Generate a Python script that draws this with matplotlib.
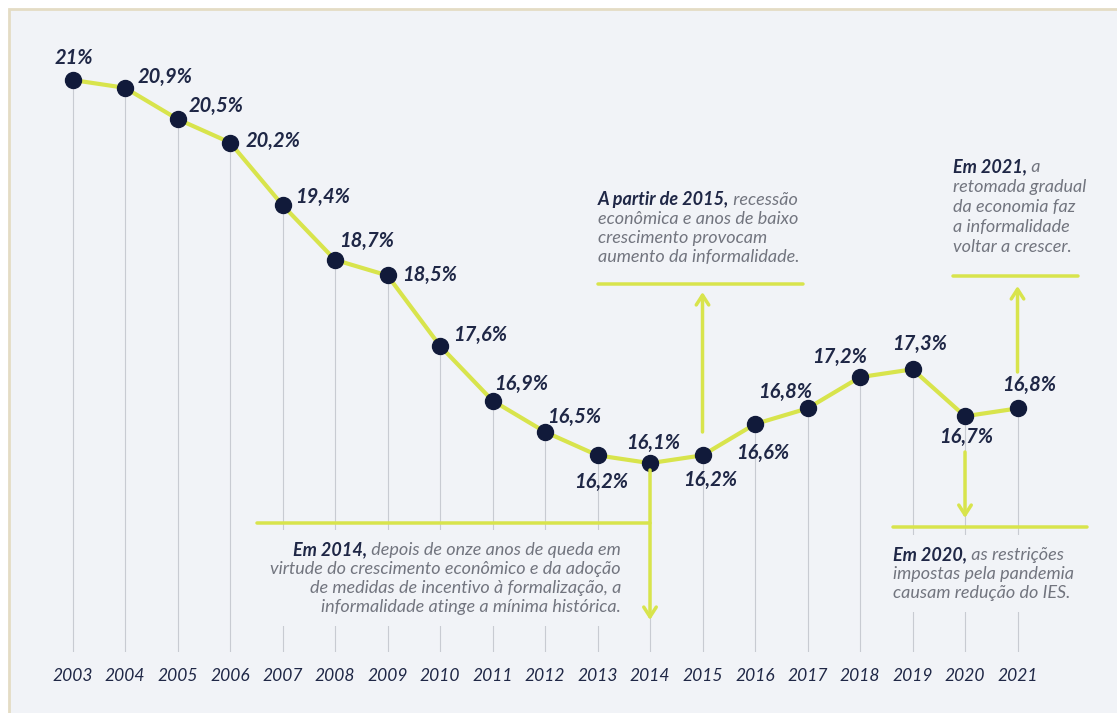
import matplotlib
matplotlib.use("Agg")
import matplotlib.pyplot as plt
from matplotlib.patches import Rectangle
from matplotlib.offsetbox import TextArea, HPacker, VPacker, AnnotationBbox

# ---------------- data ----------------
years = [2003, 2004, 2005, 2006, 2007, 2008, 2009, 2010, 2011, 2012,
         2013, 2014, 2015, 2016, 2017, 2018, 2019, 2020, 2021]
values = [21.0, 20.9, 20.5, 20.2, 19.4, 18.7, 18.5, 17.6, 16.9, 16.5,
          16.2, 16.1, 16.2, 16.6, 16.8, 17.2, 17.3, 16.7, 16.8]
value_labels = ["21%", "20,9%", "20,5%", "20,2%", "19,4%", "18,7%", "18,5%",
                "17,6%", "16,9%", "16,5%", "16,2%", "16,1%", "16,2%", "16,6%",
                "16,8%", "17,2%", "17,3%", "16,7%", "16,8%"]
year_labels = [str(y) for y in years]

note_2014 = [("Em 2014,", " depois de onze anos de queda em"),
             (None, "virtude do crescimento econômico e da adoção"),
             (None, "de medidas de incentivo à formalização, a"),
             (None, "informalidade atinge a mínima histórica.")]
note_2015 = [("A partir de 2015,", " recessão"),
             (None, "econômica e anos de baixo"),
             (None, "crescimento provocam"),
             (None, "aumento da informalidade.")]
note_2020 = [("Em 2020,", " as restrições"),
             (None, "impostas pela pandemia"),
             (None, "causam redução do IES.")]
note_2021 = [("Em 2021,", " a"),
             (None, "retomada gradual"),
             (None, "da economia faz"),
             (None, "a informalidade"),
             (None, "voltar a crescer.")]

# ---------------- style / layout ----------------
W, H = 1117, 713
BG = "#f1f3f7"
BORDER = "#e4dcc4"
YEL = "#d8e44c"
NAVY = "#111a3a"
LABEL = "#1f2746"
GRAY = "#72757f"
VGRID = "#c8cbd2"
FONT = "Lato"
FS = 13
LBL_FS = 14.5
YEAR_FS = 12.5

# label offsets in pixels (dx, dy) relative to each point
label_offsets = [(1, 22), (40, 11), (39, 13), (43, 2), (40, 8), (32, 19), (42, 1),
                 (40, 11), (29, 17), (29, 15), (4, -27), (3, 20), (8, -25),
                 (8, -29), (-22, 16), (-20, 20), (7, 25), (1, -21), (12, 23)]

fig = plt.figure(figsize=(W / 100, H / 100), dpi=100)
fig.patch.set_facecolor("white")
fig.patches.append(Rectangle((9, -20), W + 20, H - 9 + 20, transform=None,
                             facecolor=BG, edgecolor=BORDER, lw=2, zorder=-10))

ax = fig.add_axes([0, 61 / H, 1, 1 - 61 / H])
ax.set_xlim(2001.619, 2022.895)
ax.set_ylim(13.685, 22.023)
ax.axis("off")
ax.patch.set_alpha(0)

# vertical guide lines
ax.vlines(years, 13.685, values, colors=VGRID, lw=0.8, zorder=1)
# main line + dots
ax.plot(years, values, color=YEL, lw=3, zorder=2, solid_capstyle="round")
ax.plot(years, values, "o", color=NAVY, ms=11.5, zorder=3)

for x, v, lab, (dx, dy) in zip(years, values, value_labels, label_offsets):
    ax.annotate(lab, xy=(x, v), xytext=(dx, dy), textcoords="offset pixels",
                ha="center", va="center", fontsize=LBL_FS, fontweight="bold",
                style="italic", family=FONT, color=LABEL, zorder=5)

for x, lab in zip(years, year_labels):
    ax.annotate(lab, xy=(x, 37), xycoords=("data", "figure pixels"),
                ha="center", va="center", fontsize=YEAR_FS, style="italic",
                family=FONT, color=LABEL, annotation_clip=False)


def para(lines, align, sep=2.2):
    rows = []
    for bold, rest in lines:
        parts = []
        if bold:
            parts.append(TextArea(bold, textprops=dict(color=LABEL, fontweight="bold",
                                                       style="italic", family=FONT, size=FS)))
        if rest:
            parts.append(TextArea(rest, textprops=dict(color=GRAY, style="italic",
                                                       family=FONT, size=FS)))
        rows.append(HPacker(children=parts, align="baseline", pad=0, sep=0))
    return VPacker(children=rows, align=align, pad=0, sep=sep)


def place(box, xy, align, occlude=False):
    ab = AnnotationBbox(box, xy, xycoords="figure pixels", box_alignment=align,
                        frameon=occlude, pad=0.8,
                        bboxprops=dict(boxstyle="square,pad=0.8", fc=BG, ec="none"),
                        zorder=4, annotation_clip=False)
    ax.add_artist(ab)


place(para(note_2014, "right"), (621, H - 541), (1, 1), occlude=True)
place(para(note_2015, "left"), (598, H - 191), (0, 1))
place(para(note_2020, "left"), (893, H - 546), (0, 1), occlude=True)
place(para(note_2021, "left", sep=2.8), (953, H - 158), (0, 1))

arrow = dict(arrowstyle="->,head_length=0.7,head_width=0.45", color=YEL, lw=2.5,
             shrinkA=0, shrinkB=0)
plain = dict(arrowstyle="-", color=YEL, lw=2.5, shrinkA=0, shrinkB=0)
mixed = ("data", "figure pixels")

# 2014
ax.annotate("", xy=(2014, H - 523), xycoords=mixed, xytext=(257, H - 523),
            textcoords="figure pixels", arrowprops=plain, zorder=5)
ax.annotate("", xy=(2014, H - 620), xycoords=mixed, xytext=(2014, H - 470),
            textcoords=mixed, arrowprops=arrow, zorder=5)
# 2015
ax.annotate("", xy=(2015, H - 292), xycoords=mixed, xytext=(2015, H - 432),
            textcoords=mixed, arrowprops=arrow, zorder=5)
ax.annotate("", xy=(803, H - 284), xycoords="figure pixels", xytext=(598, H - 284),
            textcoords="figure pixels", arrowprops=plain, zorder=5)
# 2020
ax.annotate("", xy=(2020, H - 518), xycoords=mixed, xytext=(2020, H - 452),
            textcoords=mixed, arrowprops=arrow, zorder=5)
ax.annotate("", xy=(1087, H - 527), xycoords="figure pixels", xytext=(893, H - 527),
            textcoords="figure pixels", arrowprops=plain, zorder=5)
# 2021
ax.annotate("", xy=(2021, H - 286), xycoords=mixed, xytext=(2021, H - 372),
            textcoords=mixed, arrowprops=arrow, zorder=5)
ax.annotate("", xy=(1078, H - 276), xycoords="figure pixels", xytext=(953, H - 276),
            textcoords="figure pixels", arrowprops=plain, zorder=5)

fig.savefig("out.png", dpi=100, facecolor=fig.get_facecolor())
